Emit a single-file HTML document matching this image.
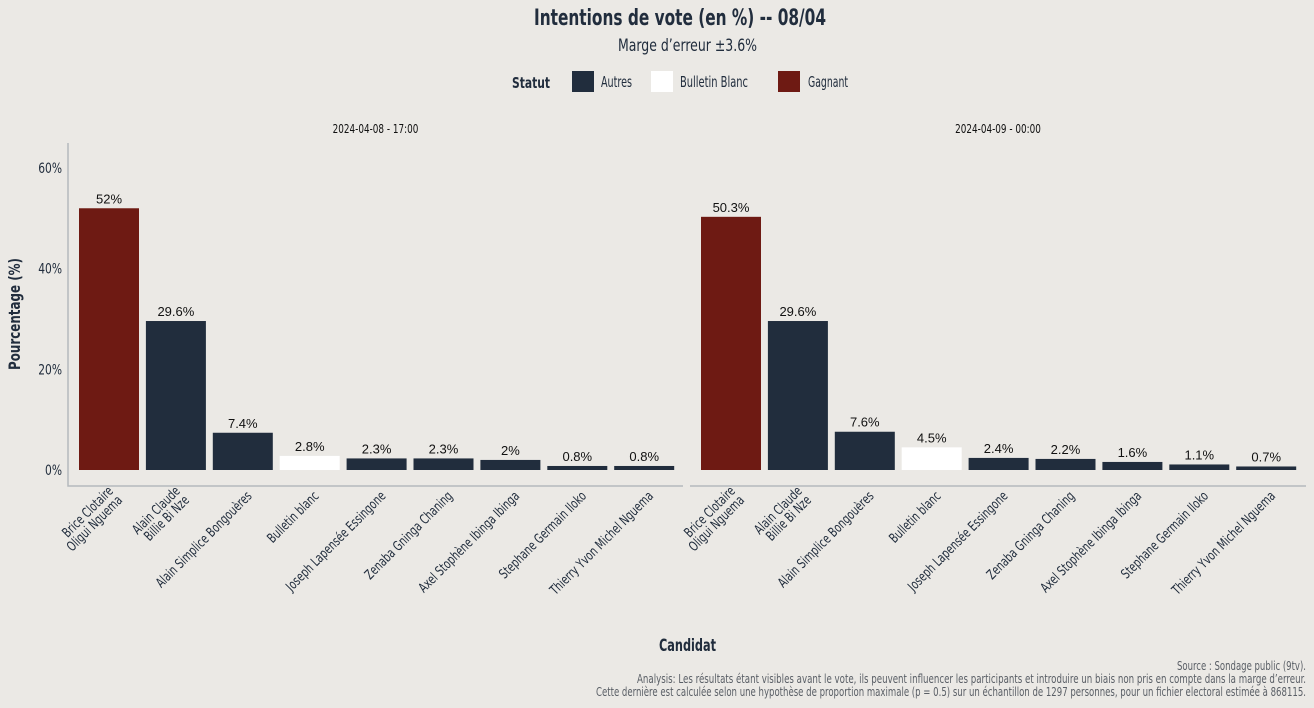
<!DOCTYPE html>
<html><head><meta charset="utf-8"><style>
body{margin:0;background:#ebe9e5;}
svg{display:block;font-family:"Liberation Sans Narrow","DejaVu Sans Condensed","Liberation Sans",sans-serif;}
</style></head><body>
<svg id="chart" width="1314" height="708" viewBox="0 0 1314 708">
<rect width="1314" height="708" fill="#ebe9e5"/>
<text x="534" y="25" font-size="22" font-weight="bold" fill="#212d3d" textLength="292" lengthAdjust="spacingAndGlyphs">Intentions de vote (en %) -- 08/04</text>
<text x="618" y="51" font-size="17" fill="#212d3d" textLength="139" lengthAdjust="spacingAndGlyphs">Marge d’erreur ±3.6%</text>
<g font-size="15" fill="#212d3d">
<text x="512" y="88" font-weight="bold" textLength="38" lengthAdjust="spacingAndGlyphs">Statut</text>
<rect x="572" y="71" width="22" height="21" fill="#212d3d"/>
<text x="601" y="87" textLength="31" lengthAdjust="spacingAndGlyphs">Autres</text>
<rect x="651" y="71" width="22" height="21" fill="#ffffff"/>
<text x="680" y="87" textLength="68" lengthAdjust="spacingAndGlyphs">Bulletin Blanc</text>
<rect x="778" y="71" width="22" height="21" fill="#6e1a13"/>
<text x="808" y="87" textLength="40" lengthAdjust="spacingAndGlyphs">Gagnant</text>
</g>
<text transform="translate(20,370) rotate(-90)" font-size="16" font-weight="bold" fill="#212d3d" textLength="112" lengthAdjust="spacingAndGlyphs">Pourcentage (%)</text>
<text x="659" y="651" font-size="17" font-weight="bold" fill="#212d3d" textLength="57" lengthAdjust="spacingAndGlyphs">Candidat</text>
<g font-size="12" fill="#5a5f66">
<text x="1177" y="670" textLength="129" lengthAdjust="spacingAndGlyphs">Source : Sondage public (9tv).</text>
<text x="637" y="683" textLength="669" lengthAdjust="spacingAndGlyphs">Analysis: Les résultats étant visibles avant le vote, ils peuvent influencer les participants et introduire un biais non pris en compte dans la marge d’erreur.</text>
<text x="596" y="696" textLength="710" lengthAdjust="spacingAndGlyphs">Cette dernière est calculée selon une hypothèse de proportion maximale (p = 0.5) sur un échantillon de 1297 personnes, pour un fichier electoral estimée à 868115.</text>
</g>
<g id="plot"></g>
</svg>
<script>
const candidates=["Brice Clotaire\nOligui Nguema","Alain Claude\nBillie Bi Nze","Alain Simplice Bongouères","Bulletin blanc","Joseph Lapensée Essingone","Zenaba Gninga Chaning","Axel Stophène Ibinga Ibinga","Stephane Germain Iloko","Thierry Yvon Michel Nguema"];
const status=["Gagnant","Autres","Autres","Bulletin Blanc","Autres","Autres","Autres","Autres","Autres"];
const panelTitles=["2024-04-08 - 17:00","2024-04-09 - 00:00"];
const values1=[52,29.6,7.4,2.8,2.3,2.3,2,0.8,0.8];
const values2=[50.3,29.6,7.6,4.5,2.4,2.2,1.6,1.1,0.7];
const labels1=["52%","29.6%","7.4%","2.8%","2.3%","2.3%","2%","0.8%","0.8%"];
const labels2=["50.3%","29.6%","7.6%","4.5%","2.4%","2.2%","1.6%","1.1%","0.7%"];
const yTicks=[0,20,40,60];
const yTickLabels=["0%","20%","40%","60%"];
const NS="http://www.w3.org/2000/svg";
const colors={"Gagnant":"#6e1a13","Autres":"#212d3d","Bulletin Blanc":"#ffffff"};
const y=v=>470-v*(302/60);
const plot=document.getElementById('plot');
function mk(tag,attrs,parent){const e=document.createElementNS(NS,tag);for(const k in attrs)e.setAttribute(k,attrs[k]);parent.appendChild(e);return e;}
const panels=[{x0:68,x1:683,vals:values1,labs:labels1},{x0:690,x1:1306,vals:values2,labs:labels2}];
panels.forEach((p,pi)=>{
  const g=mk('g',{},plot);
  
  
  const xc=i=>p.x0+41+i*66.9;
  const t=mk('text',{transform:`translate(${(p.x0+p.x1)/2},133) scale(0.82,1)`,'text-anchor':'middle','font-size':12,fill:'#111'},g);
  t.textContent=panelTitles[pi];
  
  
  const ax=mk('path',{d:pi===0?`M${p.x0} 143V486H${p.x1}`:`M${p.x0} 486H${p.x1}`,stroke:'#b5b9bd','stroke-width':1.5,fill:'none'},g);
  
  
  if(pi===0){yTicks.forEach((v,k)=>{
    const tl=mk('text',{transform:`translate(62,${y(v)+5}) scale(0.85,1)`,'text-anchor':'end','font-size':14,fill:'#212d3d'},g);
    tl.textContent=yTickLabels[k];
    
    
  });}
  p.vals.forEach((v,i)=>{
    const b=mk('rect',{x:xc(i)-30,y:y(v),width:60,height:470-y(v),fill:colors[status[i]]},g);
    
    
    const l=mk('text',{x:xc(i),y:y(v)-5,'text-anchor':'middle','font-size':13,fill:'#111','font-family':'Liberation Sans, sans-serif'},g);
    l.textContent=p.labs[i];
    
    
    const lines=candidates[i].split('\n');
    const xl=mk('text',{transform:`translate(${xc(i)+7},${494}) rotate(-45) scale(0.8,1)`,'text-anchor':'end','font-size':13.5,fill:'#212d3d'},g);
    
    
    lines.forEach((s,j)=>{const ts=mk('tspan',{x:0,dy:j===0?(lines.length>1?-3:4):13},xl);ts.textContent=s;});
  });
});
</script>
</body></html>
